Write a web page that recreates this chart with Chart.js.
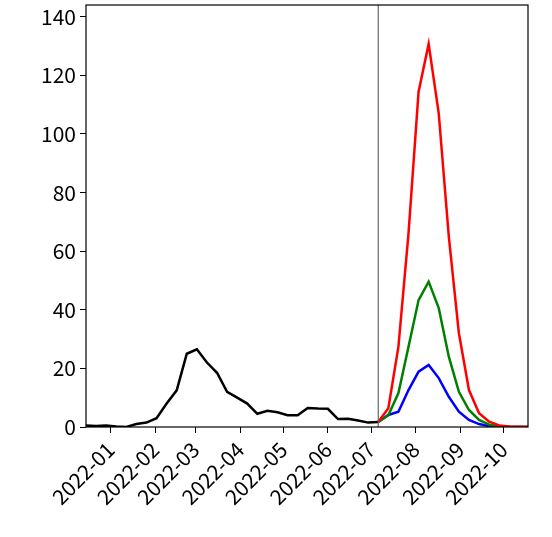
<!DOCTYPE html>
<html>
<head>
<meta charset="utf-8">
<script src="https://cdn.jsdelivr.net/npm/chart.js@4/dist/chart.umd.min.js"></script>
<style>
  body { margin: 0; background: #fff; }
  #wrap { width: 552px; height: 537px; }
</style>
</head>
<body>
<div id="wrap"><canvas id="c" width="552" height="537"></canvas></div>
<script>
// x values are days counted from 2022-01-01
const observedStart = -17;
const observed = [0.5, 0.3, 0.5, 0.2, 0, 1, 1.5, 3, 8, 12.5, 25, 26.5, 22, 18.5, 12, 10, 8, 4.5,
                  5.5, 5, 4, 4, 6.5, 6.3, 6.2, 2.7, 2.8, 2.2, 1.5, 1.7];
const forecastStart = 186;
const highSeries = [1.7, 6.4, 27.4, 66, 114.4, 130.7, 107, 65, 32, 12.6, 4.7, 1.8, 0.5, 0.2, 0.1, 0];
const midSeries  = [1.7, 4, 11.6, 27.4, 43.3, 49.6, 40.6, 24, 12, 5.8, 2.4, 0.8, 0.3, 0.1, 0, 0];
const lowSeries  = [1.7, 4.1, 5.2, 12.6, 18.9, 21.2, 16.7, 10.3, 5.2, 2.4, 1, 0.3, 0.1, 0, 0, 0];
const monthTicks = [0, 31, 59, 90, 120, 151, 181, 212, 243, 273];
const monthLabels = ["2022-01", "2022-02", "2022-03", "2022-04", "2022-05",
                     "2022-06", "2022-07", "2022-08", "2022-09", "2022-10"];

function toPoints(start, values) {
    return values.map((v, i) => ({x: start + 7 * i, y: v}));
}

function lineSet(data, color) {
    return {data: data, borderColor: color, borderWidth: 2.5, pointRadius: 0, tension: 0, fill: false};
}

//frame and the forecast divider
const framePlugin = {
    id: "frame",
    afterDatasetsDraw(chart) {
        const ctx = chart.ctx;
        const a = chart.chartArea;
        const xs = chart.scales.x;
        ctx.save();
        ctx.strokeStyle = "#666";
        ctx.lineWidth = 1.2;
        const px = xs.getPixelForValue(forecastStart);
        ctx.beginPath();
        ctx.moveTo(px, a.top);
        ctx.lineTo(px, a.bottom);
        ctx.stroke();
        ctx.strokeStyle = "#000";
        ctx.lineWidth = 1.2;
        ctx.strokeRect(a.left, a.top, a.right - a.left, a.bottom - a.top);
        ctx.restore();
    }
};

new Chart(document.getElementById("c"), {
    type: "line",
    data: {
        datasets: [
            lineSet(toPoints(observedStart, observed), "#000000"),
            lineSet(toPoints(forecastStart, highSeries), "#ff0000"),
            lineSet(toPoints(forecastStart, midSeries), "#008000"),
            lineSet(toPoints(forecastStart, lowSeries), "#0000ff")
        ]
    },
    options: {
        responsive: false,
        animation: false,
        events: [],
        layout: {padding: {top: 5, right: 24}},
        plugins: {legend: {display: false}, tooltip: {enabled: false}},
        scales: {
            x: {
                type: "linear",
                min: -17,
                max: 290,
                afterBuildTicks: (axis) => { axis.ticks = monthTicks.map(v => ({value: v})); },
                afterFit: (axis) => { axis.height = 110; axis.paddingLeft = 0; axis.paddingRight = 0; },
                grid: {drawOnChartArea: false, tickLength: 6, color: "#000"},
                border: {display: false},
                ticks: {
                    minRotation: 45, maxRotation: 45, autoSkip: false, padding: 4,
                    color: "#000", font: {family: "Noto Sans CJK JP", size: 21},
                    callback: (v) => monthLabels[monthTicks.indexOf(v)]
                }
            },
            y: {
                min: 0,
                max: 144,
                afterBuildTicks: (axis) => { axis.ticks = [0, 20, 40, 60, 80, 100, 120, 140].map(v => ({value: v})); },
                afterFit: (axis) => { axis.width = 86; axis.paddingTop = 0; axis.paddingBottom = 0; },
                grid: {drawOnChartArea: false, tickLength: 6, color: "#000"},
                border: {display: false},
                ticks: {color: "#000", padding: 4, font: {family: "Noto Sans CJK JP", size: 21}}
            }
        }
    },
    plugins: [framePlugin]
});
</script>
</body>
</html>
